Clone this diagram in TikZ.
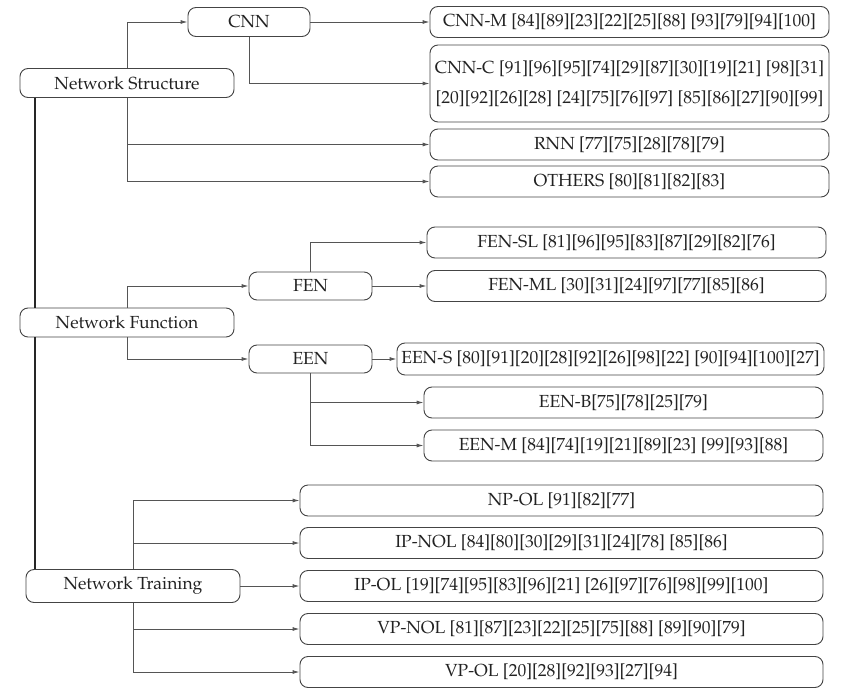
\documentclass[tikz,border=0pt]{standalone}
\usepackage[T1]{fontenc}
\renewcommand{\rmdefault}{ppl}
\usetikzlibrary{arrows.meta}
\definecolor{linec}{HTML}{555555}
\definecolor{boxc}{HTML}{444444}
\definecolor{textc}{HTML}{222222}
\tikzset{
  box/.style={draw=boxc, line width=0.9pt, rounded corners=8pt, fill=white, text=textc,
    inner sep=0pt, align=center, font=\fontsize{17.5}{25}\selectfont},
  branch/.style={draw=linec, line width=0.9pt, -{Latex[length=7pt,width=4pt]}},
  mainline/.style={draw=black!85, line width=1.8pt},
}
\begin{document}
\begin{tikzpicture}[x=1pt,y=-1pt]
\useasboundingbox (0,0) rectangle (852,696);
% left nodes
\node[box, minimum width=214, minimum height=29] (ns) at (127,83) {Network Structure};
\node[box, minimum width=214, minimum height=29] (nf) at (127,322.5) {Network Function};
\node[box, minimum width=214, minimum height=33] (nt) at (133,586) {Network Training};
\coordinate (mx) at (35,0);
% structure
\node[box, minimum width=122, minimum height=29] (cnn) at (249,22) {CNN};
\node[box, minimum width=399, minimum height=31] (cnnm) at (629.5,22) {CNN-M [84][89][23][22][25][88] [93][79][94][100]};
\node[box, minimum width=399, minimum height=77, font=\fontsize{17.5}{30}\selectfont] (cnnc) at (629.5,83.5) {CNN-C [91][96][95][74][29][87][30][19][21] [98][31]\\{}[20][92][26][28] [24][75][76][97] [85][86][27][90][99]};
\node[box, minimum width=399, minimum height=31] (rnn) at (629.5,144.5) {RNN [77][75][28][78][79]};
\node[box, minimum width=399, minimum height=31] (oth) at (629.5,181.5) {OTHERS [80][81][82][83]};
% function
\node[box, minimum width=123, minimum height=28] (fen) at (310.5,286) {FEN};
\node[box, minimum width=123, minimum height=28] (een) at (310.5,359) {EEN};
\node[box, minimum width=399, minimum height=31] (fensl) at (626.5,242.5) {FEN-SL [81][96][95][83][87][29][82][76]};
\node[box, minimum width=399, minimum height=31] (fenml) at (626.5,286) {FEN-ML [30][31][24][97][77][85][86]};
\node[box, minimum width=427, minimum height=32] (eens) at (610.5,359) {EEN-S [80][91][20][28][92][26][98][22] [90][94][100][27]};
\node[box, minimum width=399, minimum height=31] (eenb) at (623.5,402.5) {EEN-B[75][78][25][79]};
\node[box, minimum width=399, minimum height=31] (eenm) at (623.5,445.5) {EEN-M [84][74][19][21][89][23] [99][93][88]};
% training
\node[box, minimum width=523, minimum height=31] (npol) at (561.5,500.5) {NP-OL [91][82][77]};
\node[box, minimum width=523, minimum height=31] (ipnol) at (561.5,543) {IP-NOL [84][80][30][29][31][24][78] [85][86]};
\node[box, minimum width=523, minimum height=31] (ipol) at (561.5,586) {IP-OL [19][74][95][83][96][21] [26][97][76][98][99][100]};
\node[box, minimum width=523, minimum height=31] (vpnol) at (561.5,629) {VP-NOL [81][87][23][22][25][75][88] [89][90][79]};
\node[box, minimum width=523, minimum height=31] (vpol) at (561.5,672) {VP-OL [20][28][92][93][27][94]};
% main spine
\draw[mainline] (ns.south -| mx) -- (nf.north -| mx);
\draw[mainline] (nf.south -| mx) -- (nt.north -| mx);
% structure connectors
\draw[branch] (ns.north) |- (cnn.west);
\draw[branch] (cnn.east) -- (cnnm.west);
\draw[branch] (cnn.south) |- (cnnc.west);
\draw[branch] (ns.south) |- (rnn.west);
\draw[branch] (ns.south) |- (oth.west);
% function connectors
\draw[branch] (nf.north) |- (fen.west);
\draw[branch] (nf.south) |- (een.west);
\draw[branch] (fen.north) |- (fensl.west);
\draw[branch] (fen.east) -- (fenml.west);
\draw[branch] (een.east) -- (eens.west);
\draw[branch] (een.south) |- (eenb.west);
\draw[branch] (een.south) |- (eenm.west);
% training connectors
\draw[branch] (nt.north) |- (npol.west);
\draw[branch] (nt.north) |- (ipnol.west);
\draw[branch] (nt.east) -- (ipol.west);
\draw[branch] (nt.south) |- (vpnol.west);
\draw[branch] (nt.south) |- (vpol.west);
\end{tikzpicture}
\end{document}
